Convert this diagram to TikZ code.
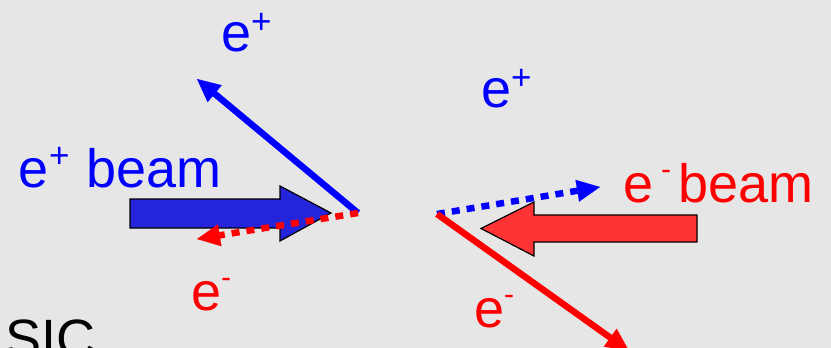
\documentclass[tikz,border=0pt]{standalone}
\usepackage{fontspec}
\setmainfont{Liberation Sans}
\usetikzlibrary{arrows.meta}
\definecolor{bg}{RGB}{230,230,230}
\definecolor{pblue}{RGB}{0,0,255}
\definecolor{pred}{RGB}{255,0,0}
\definecolor{bluefill}{RGB}{36,36,218}
\definecolor{redfill}{RGB}{255,51,51}
\newcommand{\bigtxt}{\fontsize{54}{60}\selectfont}
\newcommand{\suptxt}{\fontsize{30}{32}\selectfont}
\newcommand{\plustxt}{\fontsize{35}{36}\selectfont}
\newcommand{\pplus}[1]{\raisebox{#1}{\plustxt +}}
\begin{document}
\begin{tikzpicture}[x=1pt,y=-1pt,
  lbl/.style={anchor=base west, inner sep=0pt, outer sep=0pt, font=\bigtxt},
  track/.style={line width=6.5pt, -{Triangle[length=23pt,width=22pt,line width=0.1pt]}},
  dtrack/.style={track, dash pattern=on 8pt off 7pt},
  fat/.style={draw=black, line width=1.2pt, line join=miter}]
\useasboundingbox (0,0) rectangle (831,348);
\fill[bg] (0,0) rectangle (831,348);
\clip (0,0) rectangle (831,348);

% interaction points
\coordinate (L) at (358,213);
\coordinate (R) at (437,214);
\coordinate (Lup) at (197,79);
\coordinate (Ldn) at (197,239);
\coordinate (Rup) at (600,187);
\coordinate (Rdn) at (629,351);

% labels
\node[lbl, text=pblue] (beamp) at (18,187) {e\kern1pt\pplus{20pt}\kern17pt beam};
\node[lbl, text=pred] (beamm) at (623,202) {e\kern8pt\raisebox{23pt}{\suptxt -}\kern7pt beam};
\node[lbl, text=pblue] (ep1) at (221,51) {e\pplus{18pt}};
\node[lbl, text=pblue] (ep2) at (481,107) {e\pplus{18pt}};
\node[lbl, text=pred] (em1) at (191,310) {e\raisebox{23pt}{\suptxt -}};
\node[lbl, text=pred] (em2) at (474,327) {e\raisebox{23pt}{\suptxt -}};
\node[lbl, text=black] (sic) at (5.5,357) {SIC};

% fat beam arrows
\draw[fat, fill=bluefill] (130,199) -- (280,199) -- (280,186) -- (331,213)
  -- (280,241) -- (280,228) -- (130,228) -- cycle;
\draw[fat, fill=redfill] (697,215) -- (534,215) -- (534,202) -- (481,228.5)
  -- (534,256) -- (534,242) -- (697,242) -- cycle;

% outgoing particles
\draw[track, pblue] (L) -- (Lup);
\draw[dtrack, pred] (L) -- (Ldn);
\draw[dtrack, pblue] (R) -- (Rup);
\draw[track, pred] (R) -- (Rdn);
\end{tikzpicture}
\end{document}
